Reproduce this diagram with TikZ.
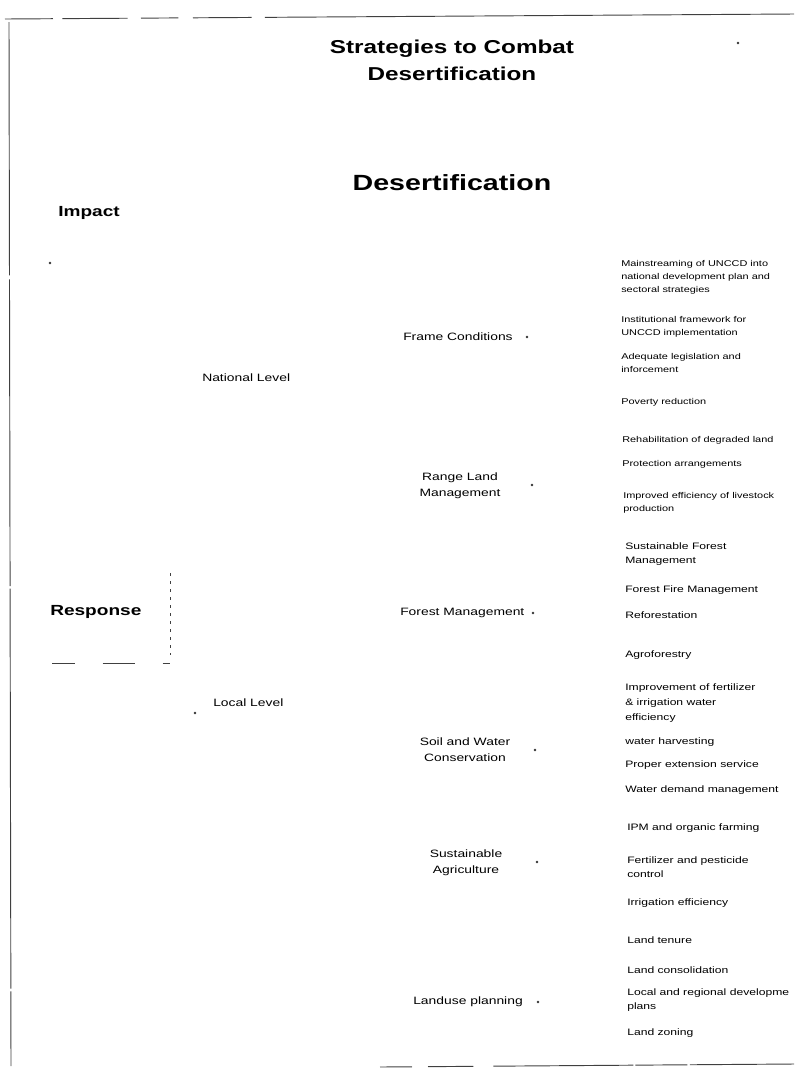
\documentclass[tikz,border=0pt]{standalone}
\usepackage{fontspec}
\setmainfont{Liberation Sans}[FakeStretch=1.3]
\tikzset{
  heading/.style={font=\fontsize{14}{20}\selectfont\bfseries, align=center, inner sep=0pt},
  bigtitle/.style={font=\fontsize{16.5}{20}\selectfont\bfseries, inner sep=0pt},
  side/.style={font=\fontsize{11}{13}\selectfont\bfseries, anchor=west, inner sep=0pt},
  level/.style={font=\fontsize{8}{10}\selectfont, anchor=west, inner sep=0pt},
  area/.style={font=\fontsize{8}{12}\selectfont, align=center, inner sep=0pt},
  measure/.style={font=\fontsize{7}{11}\selectfont, align=left, anchor=west, inner sep=0pt},
  minor/.style={measure, font=\fontsize{6.3}{9.8}\selectfont},
  scanline/.style={line width=0.7pt, draw=black!75},
  speck/.style={fill=black!80}
}
\begin{document}
\begin{tikzpicture}[x=0.75pt, y=-0.75pt]
  \useasboundingbox (0,0) rectangle (794,1076);
  % frame of the scanned page
  \draw[scanline, dash pattern=on 36pt off 7pt on 49pt off 10pt on 28pt off 11pt on 44pt off 10pt on 500pt off 1pt]
    (5,19) -- (794,14);
  \draw[scanline, dash pattern=on 190pt off 3pt on 230pt off 2pt on 300pt off 2pt on 200pt off 2pt]
    (9,22) -- (11,1066);
  \draw[scanline, dash pattern=on 24pt off 12pt on 34pt off 15pt on 105pt off 1.5pt on 39pt off 2pt on 100pt off 1pt]
    (380,1067) -- (794,1064);
  \draw[scanline, line width=0.5pt, dash pattern=on 17pt off 21pt on 24pt off 21pt on 6pt off 2pt]
    (52,663) -- (170,663);
  \draw[scanline, line width=0.5pt, dash pattern=on 2pt off 4pt] (170,573) -- (170,655);

  \node[heading] (title) at (452,60) {Strategies to Combat\\Desertification};
  \node[bigtitle] (desert) at (452,183) {Desertification};
  \node[side] (impact) at (58,213) {Impact};
  \node[side] (response) at (50,612) {Response};
  \node[level] (national) at (202,378) {National Level};
  \node[level] (local) at (213,703) {Local Level};

  % fields of action
  \node[area, anchor=west] (frame) at (403,337) {Frame Conditions};
  \node[area] (range) at (460,486) {Range Land\\Management};
  \node[area, anchor=west] (forest) at (400,613) {Forest Management};
  \node[area] (soil) at (465,750) {Soil and Water\\Conservation};
  \node[area] (agri) at (466,863) {Sustainable\\Agriculture};
  \node[area, anchor=west] (landuse) at (413,1002) {Landuse planning};

  % measures
  \node[minor] (mainstr) at (621,277) {Mainstreaming of UNCCD into\\national development plan and\\sectoral strategies};
  \node[minor] (instfw) at (621,327) {Institutional framework for\\UNCCD implementation};
  \node[minor] (legis) at (621,363) {Adequate legislation and\\inforcement};
  \node[minor] (poverty) at (621,402) {Poverty reduction};
  \node[minor] (rehab) at (622,440) {Rehabilitation of degraded land};
  \node[minor] (protect) at (622,464) {Protection arrangements};
  \node[minor] (livestock) at (623,503) {Improved efficiency of livestock\\production};
  \node[measure] (sfm) at (625,554) {Sustainable Forest\\Management};
  \node[measure] (fire) at (625,590) {Forest Fire Management};
  \node[measure] (refor) at (625,615) {Reforestation};
  \node[measure] (agrofor) at (625,655) {Agroforestry};
  \node[measure] (fertirr) at (625,703) {Improvement of fertilizer\\\& irrigation water\\efficiency};
  \node[measure] (harvest) at (625,742) {water harvesting};
  \node[measure] (extension) at (625,765) {Proper extension service};
  \node[measure] (demand) at (625,790) {Water demand management};
  \node[measure] (ipm) at (627,828) {IPM and organic farming};
  \node[measure] (pesticide) at (627,867) {Fertilizer and pesticide\\control};
  \node[measure] (irrig) at (627,903) {Irrigation efficiency};
  \node[measure] (tenure) at (627,940) {Land tenure};
  \node[measure] (consol) at (627,970) {Land consolidation};
  \node[measure] (regional) at (627,1000) {Local and regional developme\\plans};
  \node[measure] (zoning) at (627,1033) {Land zoning};

  % specks left over from the scan
  \foreach \sx/\sy in {50/263, 738/43, 195/713, 527/337, 532/485, 533/613, 535/750, 537/862, 538/1002}
    \fill[speck] (\sx,\sy) circle (1pt);
\end{tikzpicture}
\end{document}
